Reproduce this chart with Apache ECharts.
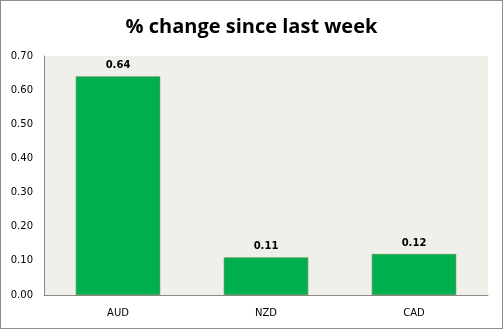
<!DOCTYPE html>
<html>
<head>
<meta charset="utf-8">
<script src="https://cdn.jsdelivr.net/npm/echarts@6/dist/echarts.min.js"></script>
<style>
  html, body { margin: 0; padding: 0; background: #fff; }
  #chart { width: 501px; height: 327px; border: 1px solid #8c8c8c; }
</style>
</head>
<body>
<div id="chart"></div>
<script>
const categories = ['AUD', 'NZD', 'CAD'];
const changeValues = [0.64, 0.11, 0.12];
const yTicks = { min: 0, max: 0.7, interval: 0.1 };

const chart = echarts.init(document.getElementById('chart'), null, { renderer: 'canvas' });
chart.setOption({
  animation: false,
  title: {
    text: '% change since last week',
    left: 'center',
    top: 11,
    textStyle: { fontFamily: 'Open Sans', fontWeight: 'bold', fontSize: 20, color: '#000' }
  },
  grid: {
    left: 43, right: 14, top: 55, bottom: 33,
    show: true, backgroundColor: '#eff0e9', borderWidth: 0
  },
  xAxis: {
    type: 'category',
    data: categories,
    axisLine: { lineStyle: { color: '#8a8a8a', width: 1 } },
    axisTick: { show: false },
    axisLabel: { fontFamily: 'DejaVu Sans', fontSize: 10, color: '#000', margin: 13 }
  },
  yAxis: {
    type: 'value',
    min: yTicks.min, max: yTicks.max, interval: yTicks.interval,
    axisLine: { show: true, lineStyle: { color: '#8a8a8a', width: 1 } },
    axisTick: { show: false },
    splitLine: { show: false },
    axisLabel: {
      fontFamily: 'DejaVu Sans', fontSize: 10, color: '#000', margin: 11,
      formatter: v => v.toFixed(2)
    }
  },
  series: [{
    type: 'bar',
    data: changeValues,
    barWidth: '57%',
    itemStyle: { color: '#00b050', borderColor: '#5a8a45', borderWidth: 0.6 },
    label: {
      show: true, position: 'top', distance: 6,
      fontFamily: 'DejaVu Sans', fontWeight: 'bold', fontSize: 10, color: '#000',
      formatter: p => p.value.toFixed(2)
    }
  }]
});
</script>
</body>
</html>
